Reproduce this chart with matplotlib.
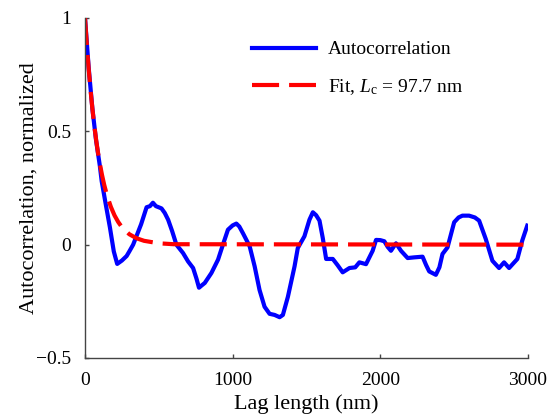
import numpy as np
import matplotlib
matplotlib.use("Agg")
import matplotlib.pyplot as plt

plt.rcParams['font.family'] = ['Liberation Serif', 'DejaVu Serif']
plt.rcParams['mathtext.fontset'] = 'custom'
plt.rcParams['mathtext.rm'] = 'Liberation Serif'
plt.rcParams['mathtext.it'] = 'Liberation Serif:italic'

# autocorrelation
lag = [0, 25, 50, 75, 100, 113, 140, 169, 195, 218, 250, 282, 300, 326, 350,
       380, 417, 440, 460, 480, 518, 540, 563, 590, 619, 664, 698, 732, 755,
       772, 790, 811, 856, 901, 934, 968, 1000, 1025, 1045, 1070, 1115, 1149,
       1182, 1216, 1250, 1284, 1318, 1340, 1374, 1419, 1441, 1486, 1520, 1543,
       1565, 1588, 1610, 1633, 1678, 1710, 1745, 1791, 1830, 1858, 1903, 1948,
       1971, 2000, 2027, 2050, 2072, 2106, 2140, 2185, 2230, 2286, 2310, 2331,
       2376, 2400, 2421, 2455, 2500, 2530, 2556, 2601, 2640, 2669, 2714, 2759,
       2804, 2838, 2872, 2928, 2961, 2995]
acf = [1.0, 0.78, 0.6, 0.46, 0.35, 0.28, 0.18, 0.075, -0.03, -0.085, -0.07,
       -0.05, -0.03, 0.0, 0.04, 0.09, 0.165, 0.17, 0.185, 0.17, 0.16, 0.14,
       0.11, 0.06, 0.0, -0.037, -0.074, -0.103, -0.15, -0.19, -0.18, -0.169,
       -0.125, -0.066, 0.0, 0.066, 0.085, 0.093, 0.08, 0.05, -0.007, -0.096,
       -0.2, -0.274, -0.305, -0.31, -0.32, -0.31, -0.23, -0.096, -0.015, 0.037,
       0.11, 0.143, 0.13, 0.106, 0.03, -0.063, -0.063, -0.09, -0.122, -0.103,
       -0.1, -0.078, -0.086, -0.027, 0.021, 0.02, 0.015, -0.01, -0.027, 0.006,
       -0.027, -0.059, -0.056, -0.053, -0.09, -0.118, -0.133, -0.1, -0.041,
       -0.012, 0.099, 0.12, 0.128, 0.128, 0.12, 0.106, 0.025, -0.071, -0.103,
       -0.078, -0.103, -0.063, 0.018, 0.084]

# fitted exponential
fit_lag = [0, 12, 25, 37, 50, 62, 75, 87, 100, 115, 130, 150, 175, 200, 225,
           250, 300, 350, 400, 500, 600, 3000]
fit_val = [1.0, 0.885, 0.774, 0.685, 0.6, 0.53, 0.464, 0.41, 0.359, 0.308,
           0.264, 0.215, 0.167, 0.129, 0.1, 0.077, 0.046, 0.028, 0.017, 0.006,
           0.002, 0.0]
Lc = 97.7

fig = plt.figure(figsize=(5.5, 4.19), dpi=100)
ax = fig.add_axes([85 / 550, 1 - 358 / 419, (528 - 85) / 550, (358 - 18) / 419])

ax.plot(lag, acf, color='#0000ff', lw=3, label='Autocorrelation')
ax.plot(fit_lag, fit_val, color='#ff0000', lw=3, dashes=(6.5, 2.4),
        label=r'Fit, $L_\mathrm{c}$ = %.1f nm' % Lc)

ax.set_xlim(0, 3000)
ax.set_ylim(-0.5, 1)
ax.set_xticks([0, 1000, 2000, 3000])
ax.set_yticks([-0.5, 0, 0.5, 1])
ax.set_yticklabels(['\u22120.5', '0', '0.5', '1'])
ax.tick_params(direction='in', length=3, width=1, labelsize=14, color='#444444')
ax.tick_params(axis='x', pad=10)
ax.tick_params(axis='y', pad=10)
for side in ['top', 'right']:
    ax.spines[side].set_visible(False)
for side in ['left', 'bottom']:
    ax.spines[side].set_color('#444444')
    ax.spines[side].set_linewidth(1)

ax.set_xlabel('Lag length (nm)', fontsize=16, labelpad=4)
ax.set_ylabel('Autocorrelation, normalized', fontsize=16, labelpad=-2)

ax.legend(loc='upper left', bbox_to_anchor=(242 / 550, 1 - 31 / 419),
          bbox_transform=fig.transFigure, frameon=False, fontsize=14,
          handlelength=3.3, handletextpad=0.6, labelspacing=0.95, borderpad=0)

fig.savefig('out.png', dpi=100)
